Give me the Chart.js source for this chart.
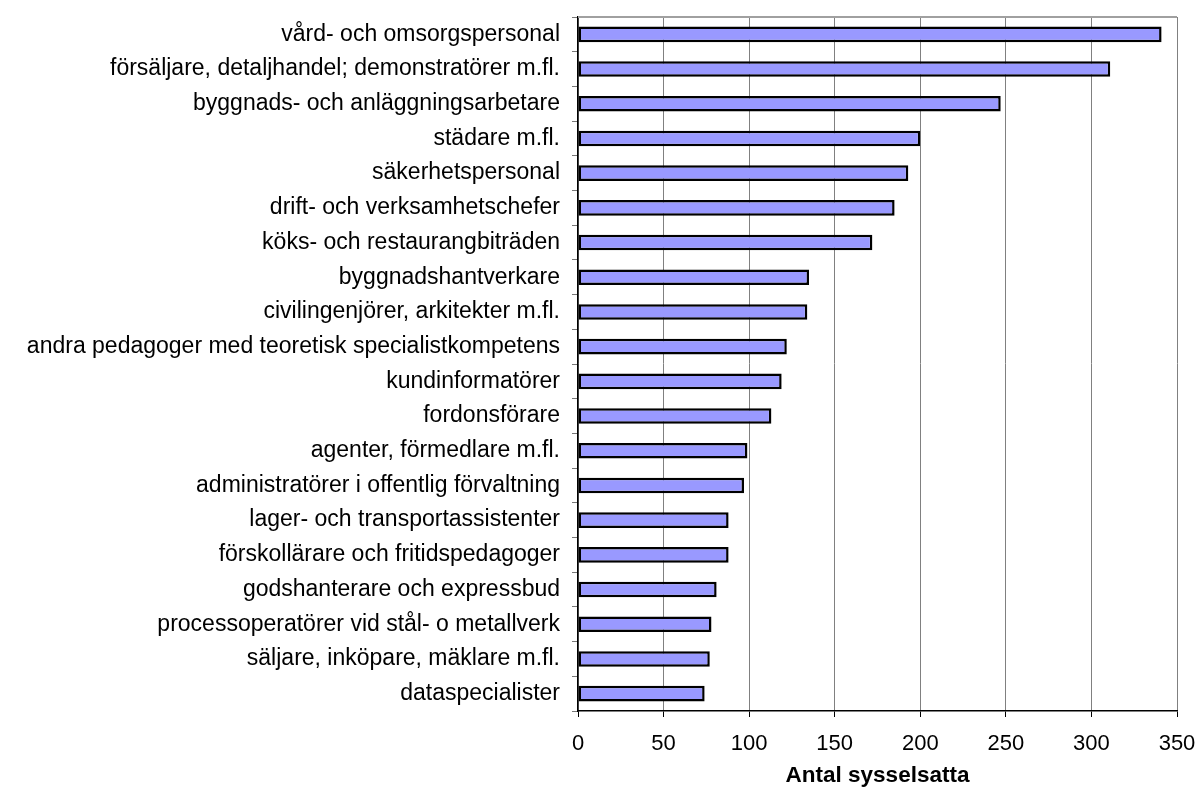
<!DOCTYPE html>
<html>
<head>
<meta charset="utf-8">
<script src="https://cdn.jsdelivr.net/npm/chart.js@4"></script>
<style>
  html, body { margin: 0; padding: 0; background: #fff; }
  #wrap { width: 1200px; height: 789px; }
</style>
</head>
<body>
<div id="wrap"><canvas id="c" width="1200" height="789"></canvas></div>
<script>
// occupations, largest first
var occupations = [
  "vård- och omsorgspersonal",
  "försäljare, detaljhandel; demonstratörer m.fl.",
  "byggnads- och anläggningsarbetare",
  "städare m.fl.",
  "säkerhetspersonal",
  "drift- och verksamhetschefer",
  "köks- och restaurangbiträden",
  "byggnadshantverkare",
  "civilingenjörer, arkitekter m.fl.",
  "andra pedagoger med teoretisk specialistkompetens",
  "kundinformatörer",
  "fordonsförare",
  "agenter, förmedlare m.fl.",
  "administratörer i offentlig förvaltning",
  "lager- och transportassistenter",
  "förskollärare och fritidspedagoger",
  "godshanterare och expressbud",
  "processoperatörer vid stål- o metallverk",
  "säljare, inköpare, mäklare m.fl.",
  "dataspecialister"
];
var employed = [341, 311, 247, 200, 193, 185, 172, 135, 134, 122,
                119, 113, 99, 97, 88, 88, 81, 78, 77, 74];
var xTitle = "Antal sysselsatta";

var FONT = "'Liberation Sans', Arial, sans-serif";

// gray line along the top of the plot area
var topBorder = {
  id: "topBorder",
  afterDraw: function(chart) {
    var a = chart.chartArea, ctx = chart.ctx;
    ctx.save();
    ctx.strokeStyle = "#a0a0a0";
    ctx.lineWidth = 2;
    ctx.beginPath();
    ctx.moveTo(a.left, a.top);
    ctx.lineTo(a.right, a.top);
    ctx.stroke();
    ctx.restore();
  }
};

new Chart(document.getElementById("c"), {
  type: "bar",
  data: {
    labels: occupations,
    datasets: [{
      data: employed,
      backgroundColor: "#9999ff",
      borderColor: "#000000",
      borderWidth: 2.5,
      borderSkipped: false,
      categoryPercentage: 1,
      barPercentage: 0.45
    }]
  },
  options: {
    indexAxis: "y",
    responsive: false,
    animation: false,
    layout: { padding: { left: 4, right: 23, top: 17, bottom: 0 } },
    plugins: { legend: { display: false }, tooltip: { enabled: false } },
    scales: {
      x: {
        min: 0, max: 350,
        ticks: { stepSize: 50, color: "#000", font: { family: FONT, size: 22 }, padding: 14 },
        grid: { color: "#808080", lineWidth: 1, tickLength: 6, tickColor: "#000" },
        border: { color: "#000", width: 1.5 },
        title: { display: true, text: xTitle, color: "#000",
                 font: { family: FONT, size: 22.5, weight: "bold" }, padding: { top: 2, bottom: 0 } },
        afterFit: function(s) { s.height = 78; s.paddingLeft = 0; s.paddingRight = 0; }
      },
      y: {
        offset: true,
        ticks: { color: "#000", font: { family: FONT, size: 23 }, padding: 12 },
        grid: { offset: true, drawOnChartArea: false, tickLength: 6, color: "#777" },
        border: { color: "#000", width: 1.5 },
        afterFit: function(s) { s.width = 574; s.paddingTop = 0; s.paddingBottom = 0; }
      }
    }
  },
  plugins: [topBorder]
});
</script>
</body>
</html>
